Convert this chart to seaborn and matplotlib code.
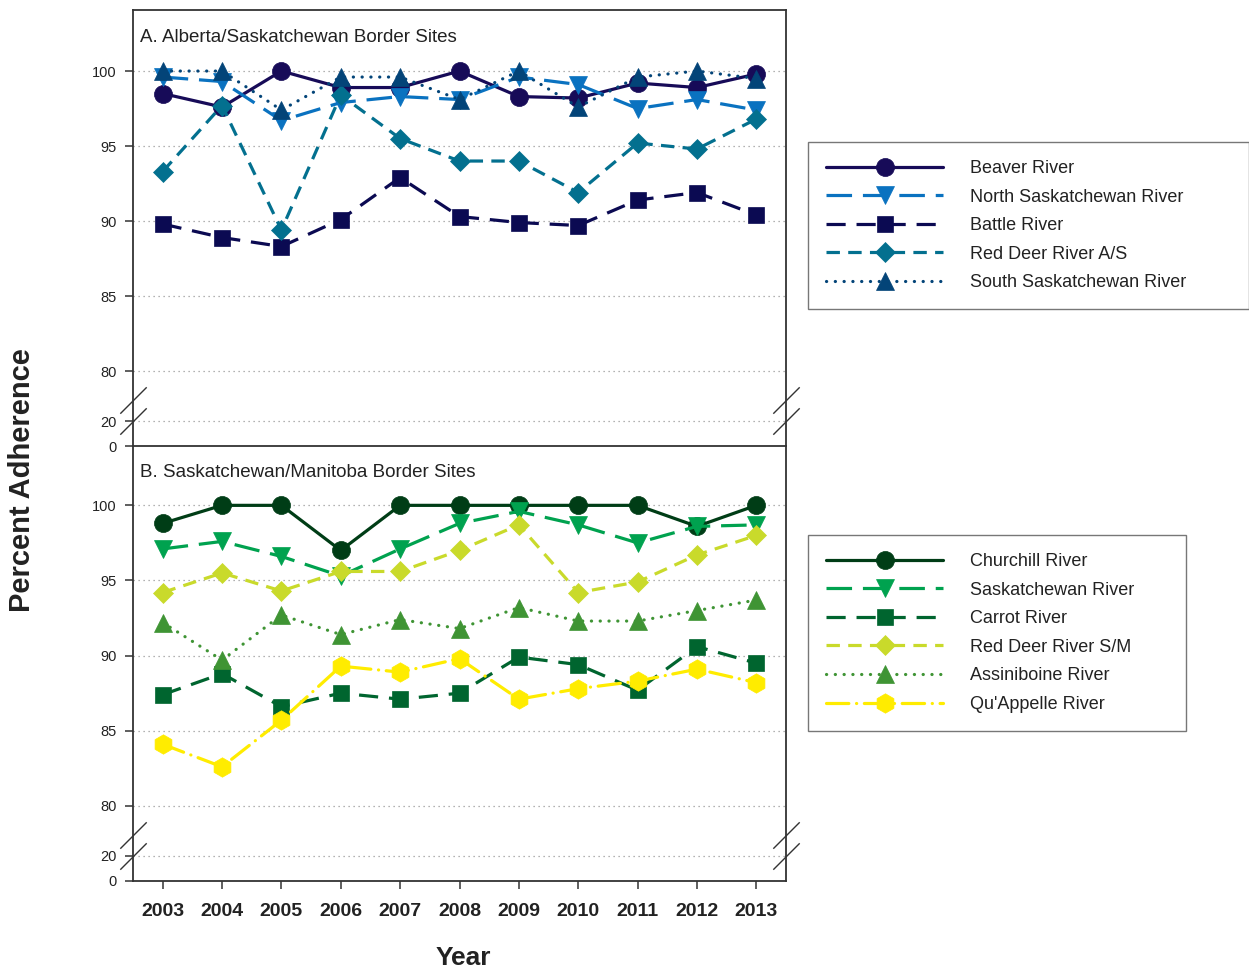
import numpy as np
import pandas as pd
import matplotlib
matplotlib.use("Agg")
import matplotlib.pyplot as plt
import seaborn as sns

years = list(range(2003, 2014))

# A. Alberta/Saskatchewan border sites (percent adherence)
names_a = ["Beaver River", "North Saskatchewan River", "Battle River",
           "Red Deer River A/S", "South Saskatchewan River"]
beaver = [98.5, 97.6, 100, 98.9, 98.9, 100, 98.3, 98.2, 99.2, 98.9, 99.8]
north_sask = [99.6, 99.3, 96.7, 97.9, 98.3, 98.1, 99.6, 99.1, 97.5, 98.1, 97.4]
battle = [89.8, 88.9, 88.3, 90.1, 92.9, 90.3, 89.9, 89.7, 91.4, 91.9, 90.4]
red_deer_as = [93.3, 97.7, 89.4, 98.4, 95.5, 94.0, 94.0, 91.9, 95.2, 94.8, 96.8]
south_sask = [100, 100, 97.4, 99.6, 99.6, 98.1, 100, 97.6, 99.6, 100, 99.5]

# B. Saskatchewan/Manitoba border sites (percent adherence)
names_b = ["Churchill River", "Saskatchewan River", "Carrot River",
           "Red Deer River S/M", "Assiniboine River", "Qu'Appelle River"]
churchill = [98.8, 100, 100, 97.0, 100, 100, 100, 100, 100, 98.6, 100]
saskatchewan = [97.1, 97.6, 96.6, 95.3, 97.1, 98.8, 99.6, 98.7, 97.5, 98.6, 98.7]
carrot = [87.4, 88.8, 86.6, 87.5, 87.1, 87.5, 89.9, 89.4, 87.7, 90.6, 89.5]
red_deer_sm = [94.2, 95.5, 94.3, 95.6, 95.6, 97.0, 98.7, 94.2, 94.9, 96.7, 98.0]
assiniboine = [92.2, 89.7, 92.7, 91.4, 92.4, 91.8, 93.2, 92.3, 92.3, 93.0, 93.7]
quappelle = [84.1, 82.6, 85.7, 89.3, 88.9, 89.8, 87.1, 87.8, 88.3, 89.1, 88.2]

y_ticks = [0, 20, 80, 85, 90, 95, 100]

values_a = [beaver, north_sask, battle, red_deer_as, south_sask]
values_b = [churchill, saskatchewan, carrot, red_deer_sm, assiniboine, quappelle]

# styling per series: colour, marker, marker size, dash pattern (in linewidths), round caps
style_a = [
    ("#170b58", "o", 13, "-", False),
    ("#0a72c0", "v", 13, (0, (8.0, 3.4)), False),
    ("#0b0a52", "s", 11.5, (0, (6.0, 3.4)), False),
    ("#03708f", "D", 10.5, (0, (4.2, 2.6)), False),
    ("#034478", "^", 13, (0, (0.05, 2.7)), True),
]
style_b = [
    ("#003d16", "o", 13, "-", False),
    ("#00a24f", "v", 13, (0, (8.0, 3.4)), False),
    ("#00652f", "s", 11.5, (0, (6.0, 3.4)), False),
    ("#c9da2b", "D", 10.5, (0, (4.2, 2.6)), False),
    ("#3f9434", "^", 13, (0, (0.05, 2.7)), True),
    ("#ffec00", "h", 14, (0, (7.0, 2.4, 0.05, 2.4)), True),
]

sns.set_theme(style="white")
plt.rcParams["font.family"] = ["Liberation Sans", "DejaVu Sans"]
plt.rcParams["axes.edgecolor"] = "#333333"

fig = plt.figure(figsize=(12.49, 9.73), dpi=100)
W, H = 1249, 973
left, right = 133 / W, 786 / W
ax_b = fig.add_axes([left, 1 - 881 / H, right - left, (881 - 446) / H])
ax_a = fig.add_axes([left, 1 - 446 / H, right - left, (446 - 10) / H])
ax_a.patch.set_visible(False)
ax_b.patch.set_visible(False)

# broken axis: 0-20 and 20-80 compressed, 80 and above at full scale
bp_val = [0, 20, 80, 300]
bp_pos = [0, 25 / 15, 5, 225]


def fwd(y):
    return np.interp(y, bp_val, bp_pos)


def inv(p):
    return np.interp(p, bp_pos, bp_val)


def draw_panel(ax, names, values, styles, ymax, title):
    handles = []
    for name, vals, (col, mk, ms, ls, rcap) in zip(names, values, styles):
        df = pd.DataFrame({"Year": years, "Percent": vals})
        sns.lineplot(data=df, x="Year", y="Percent", ax=ax, color=col,
                     marker=mk, markersize=ms, markeredgecolor=col,
                     markeredgewidth=0.5, linewidth=2.3, linestyle=ls,
                     dash_capstyle="round" if rcap else "butt",
                     label=name, legend=False)
        handles.append(ax.lines[-1])
    ax.set_yscale("function", functions=(fwd, inv))
    ax.set_ylim(0, ymax)
    ax.set_xlim(2002.5, 2013.5)
    ax.set_yticks(y_ticks)
    ax.set_yticklabels([str(t) for t in y_ticks])
    ax.yaxis.set_minor_locator(matplotlib.ticker.NullLocator())
    ax.grid(axis="y", linestyle=(0, (1, 3)), color="#999999", linewidth=0.9)
    ax.grid(axis="x", visible=False)
    ax.set_xlabel("")
    ax.set_ylabel("")
    for sp in ax.spines.values():
        sp.set_linewidth(1.3)
        sp.set_color("#333333")
    ax.tick_params(axis="y", direction="out", length=6, width=1.1,
                   color="#333333", labelsize=10.5, pad=6, left=True,
                   labelcolor="#222222")
    ax.text(0.011, 1 - 27 / 436, title, transform=ax.transAxes,
            fontsize=13.5, va="center", ha="left", color="#222222")
    # axis-break slashes on both side spines
    for xs in (0, 1):
        for yv in (20, 45):
            ax.plot([xs], [yv], marker=[(-1, -1), (1, 1)], markersize=19,
                    markeredgewidth=1.0, color="#333333",
                    transform=ax.get_yaxis_transform(), clip_on=False,
                    zorder=5)
    return handles


h_a = draw_panel(ax_a, names_a, values_a, style_a, 104.07,
                 "A. Alberta/Saskatchewan Border Sites")
h_b = draw_panel(ax_b, names_b, values_b, style_b, 103.95,
                 "B. Saskatchewan/Manitoba Border Sites")

ax_a.tick_params(axis="x", bottom=False, labelbottom=False)
ax_b.spines["top"].set_visible(False)
ax_b.set_xticks(years)
ax_b.set_xticklabels([str(y) for y in years])
ax_b.tick_params(axis="x", direction="out", length=6, width=1.1,
                 color="#333333", labelsize=14, pad=10, bottom=True,
                 labelcolor="#222222")
for lab in ax_b.get_xticklabels():
    lab.set_fontweight("bold")

leg_kw = dict(loc="upper left", mode="expand", borderaxespad=0, frameon=True,
              fancybox=False, edgecolor="#555555", fontsize=13,
              handlelength=6.5, handletextpad=1.5, labelspacing=0.64,
              numpoints=1, borderpad=1.0)
leg_a = fig.legend(h_a, names_a,
                   bbox_to_anchor=(808 / W, 1 - 310 / H, (1249 - 808) / W, 168 / H),
                   **leg_kw)
leg_b = fig.legend(h_b, names_b,
                   bbox_to_anchor=(808 / W, 1 - 733 / H, (1186 - 808) / W, 198 / H),
                   **leg_kw)
for leg in (leg_a, leg_b):
    leg.get_frame().set_linewidth(1.0)
    for t in leg.get_texts():
        t.set_color("#222222")

fig.text(22 / W, 1 - 480 / H, "Percent Adherence", rotation=90,
         ha="center", va="center", fontsize=21, fontweight="bold",
         color="#222222")
fig.text(463 / W, 1 - 958 / H, "Year", ha="center", va="center",
         fontsize=19, fontweight="bold", color="#222222")

fig.savefig("out.png", dpi=100)
